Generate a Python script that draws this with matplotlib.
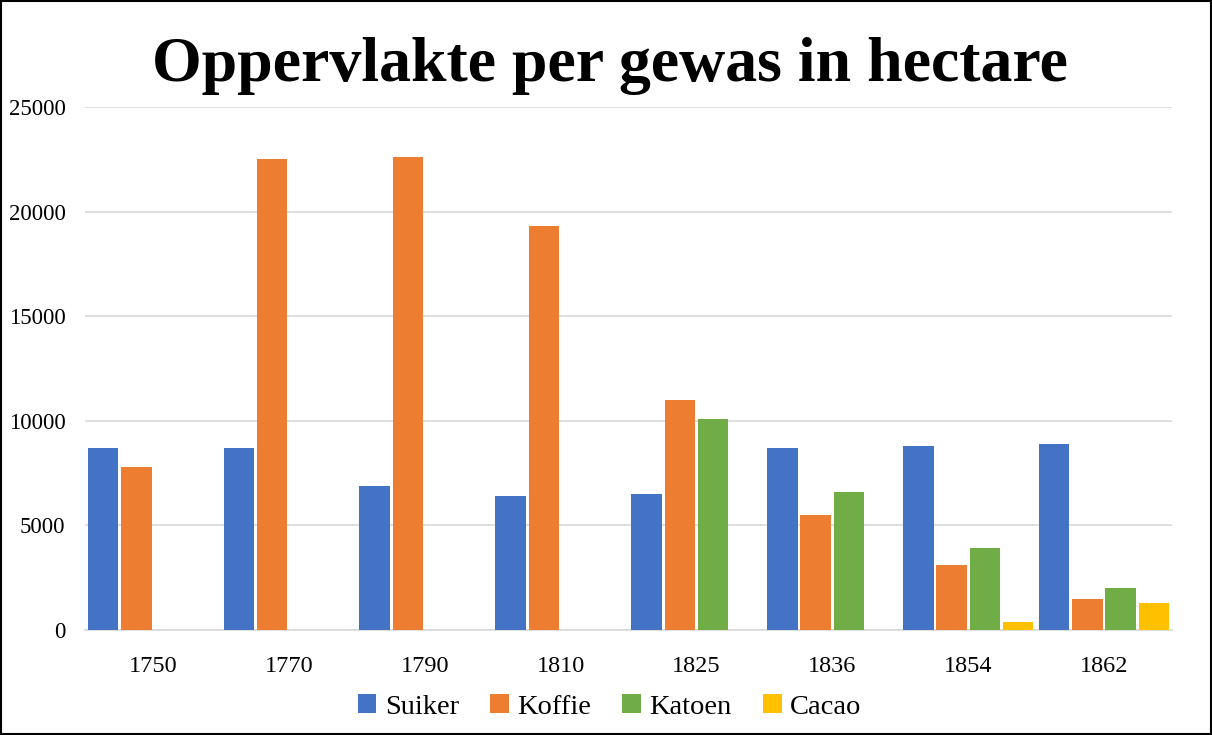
import numpy as np
import matplotlib.pyplot as plt
from matplotlib.patches import Rectangle

years = ['1750', '1770', '1790', '1810', '1825', '1836', '1854', '1862']
suiker = [8700, 8700, 6900, 6400, 6500, 8700, 8800, 8900]
koffie = [7800, 22500, 22600, 19300, 11000, 5500, 3100, 1500]
katoen = [0, 0, 0, 0, 10100, 6600, 3900, 2000]
cacao = [0, 0, 0, 0, 0, 0, 400, 1300]

series = [('Suiker', suiker, '#4472c4'), ('Koffie', koffie, '#ed7d31'),
          ('Katoen', katoen, '#70ad47'), ('Cacao', cacao, '#ffc000')]

plt.rcParams['font.family'] = 'Liberation Serif'

fig = plt.figure(figsize=(12.12, 7.35), dpi=100)
ax = fig.add_axes([85/1212, 1-630/735, (1172-85)/1212, (630-107)/735])

x = np.arange(len(years))
slot = 0.245
w = 0.225
for i, (name, vals, col) in enumerate(series):
    ax.bar(x + (i - 1.5) * slot, vals, w, color=col, label=name, zorder=3)

ax.set_xlim(-0.5, len(years) - 0.5)
ax.set_ylim(0, 25000)
ax.set_yticks(range(0, 25001, 5000))
ax.set_xticks(x)
ax.set_xticklabels(years)
ax.tick_params(axis='x', length=0, labelsize=17.5, pad=19)
ax.tick_params(axis='y', length=0, labelsize=16.5, pad=14)
ax.grid(axis='y', color='#d9d9d9', linewidth=1.2, zorder=0)
for s in ['top', 'right', 'left']:
    ax.spines[s].set_visible(False)
ax.spines['bottom'].set_color('#d9d9d9')
ax.spines['bottom'].set_linewidth(1.2)

fig.text(0.503, 0.91, 'Oppervlakte per gewas in hectare', ha='center', va='center',
         fontsize=46, fontweight='bold')

fig.legend(loc='center', bbox_to_anchor=(0.503, 1-707/735), ncol=4, frameon=False,
           fontsize=20.5, handlelength=0.65, handleheight=0.65, handletextpad=0.3,
           columnspacing=1.1)

fig.patches.append(Rectangle((0.001, 0.001), 0.998, 0.997, transform=fig.transFigure,
                             fill=False, edgecolor='black', linewidth=1.5))

fig.savefig('out.png', dpi=100)
